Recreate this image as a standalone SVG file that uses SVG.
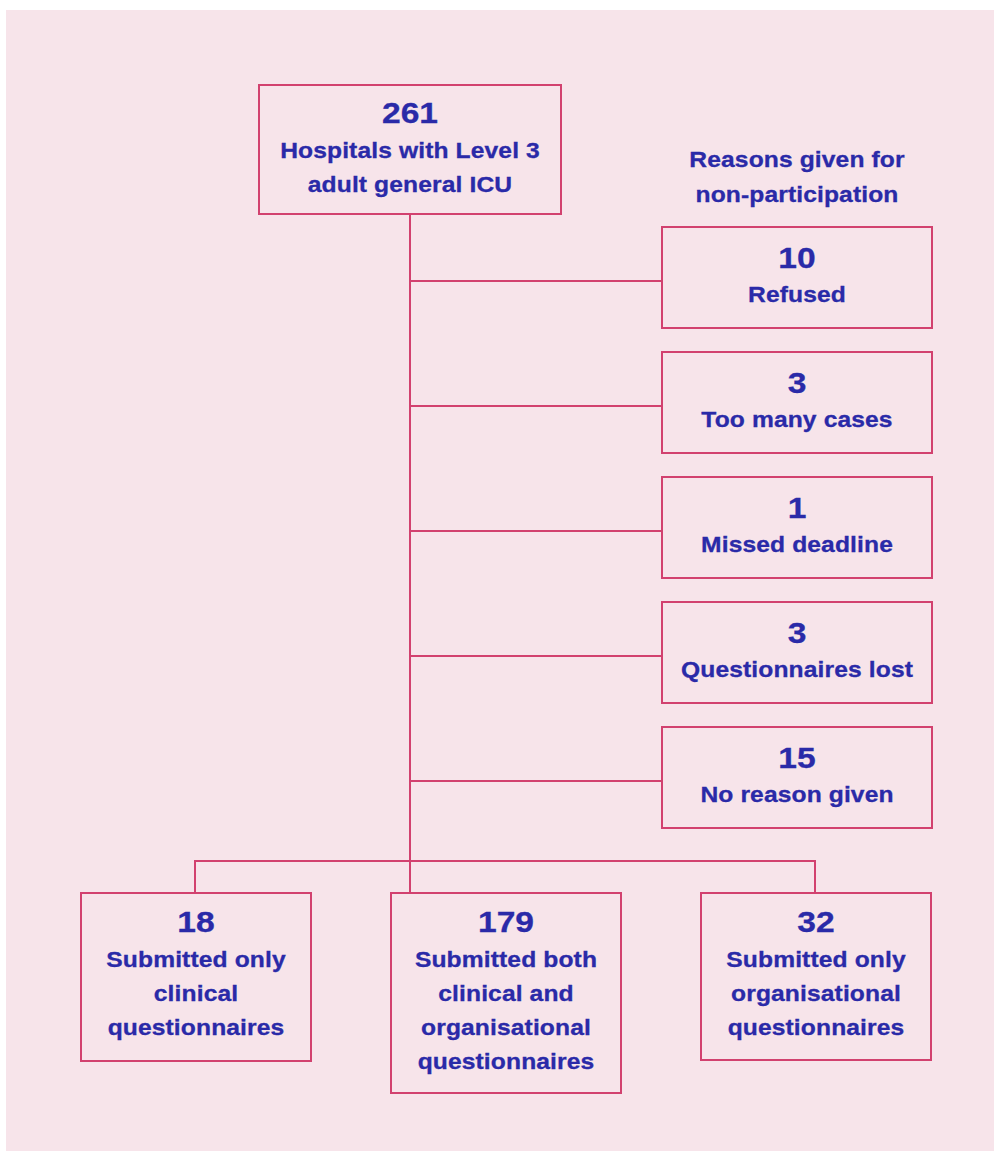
<svg xmlns="http://www.w3.org/2000/svg" width="994" height="1151" viewBox="0 0 994 1151">
<style>
.box{fill:none;stroke:#d2416f;stroke-width:2}
.ln{stroke:#d2416f;stroke-width:2;fill:none}
text{font-family:"Liberation Sans",Arial,sans-serif;font-weight:bold;fill:#2a2aa8;text-anchor:middle;stroke:#2a2aa8;stroke-width:0.3px}
.n{font-size:30px}
.t{font-size:22px;letter-spacing:0.1px}
</style>
<rect x="6" y="10" width="988" height="1141" fill="#f7e4ea"/>
<g id="connectors">
<path class="ln" d="M410 215V893"/>
<path class="ln" d="M410 281H662M410 406H662M410 531H662M410 656H662M410 781H662"/>
<path class="ln" d="M195 893V861H815V893"/>
</g>
<g id="top">
<rect class="box" x="259" y="85" width="302" height="129"/>
<g transform="translate(410 0) scale(1.12 1)">
<text class="n" x="0" y="123">261</text>
<text class="t" x="0" y="158">Hospitals with Level 3</text>
<text class="t" x="0" y="192">adult general ICU</text>
</g>
</g>
<g id="reasons-title">
<g transform="translate(797 0) scale(1.12 1)">
<text class="t" x="0" y="167">Reasons given for</text>
<text class="t" x="0" y="202">non-participation</text>
</g>
</g>
<g id="refused">
<rect class="box" x="662" y="227" width="270" height="101"/>
<g transform="translate(797 0) scale(1.12 1)">
<text class="n" x="0" y="268">10</text>
<text class="t" x="0" y="302">Refused</text>
</g>
</g>
<g id="toomany">
<rect class="box" x="662" y="352" width="270" height="101"/>
<g transform="translate(797 0) scale(1.12 1)">
<text class="n" x="0" y="393">3</text>
<text class="t" x="0" y="427">Too many cases</text>
</g>
</g>
<g id="missed">
<rect class="box" x="662" y="477" width="270" height="101"/>
<g transform="translate(797 0) scale(1.12 1)">
<text class="n" x="0" y="518">1</text>
<text class="t" x="0" y="552">Missed deadline</text>
</g>
</g>
<g id="lost">
<rect class="box" x="662" y="602" width="270" height="101"/>
<g transform="translate(797 0) scale(1.12 1)">
<text class="n" x="0" y="643">3</text>
<text class="t" x="0" y="677">Questionnaires lost</text>
</g>
</g>
<g id="noreason">
<rect class="box" x="662" y="727" width="270" height="101"/>
<g transform="translate(797 0) scale(1.12 1)">
<text class="n" x="0" y="768">15</text>
<text class="t" x="0" y="802">No reason given</text>
</g>
</g>
<g id="clinical">
<rect class="box" x="81" y="893" width="230" height="168"/>
<g transform="translate(196 0) scale(1.12 1)">
<text class="n" x="0" y="932">18</text>
<text class="t" x="0" y="967">Submitted only</text>
<text class="t" x="0" y="1001">clinical</text>
<text class="t" x="0" y="1035">questionnaires</text>
</g>
</g>
<g id="both">
<rect class="box" x="391" y="893" width="230" height="200"/>
<g transform="translate(506 0) scale(1.12 1)">
<text class="n" x="0" y="932">179</text>
<text class="t" x="0" y="967">Submitted both</text>
<text class="t" x="0" y="1001">clinical and</text>
<text class="t" x="0" y="1035">organisational</text>
<text class="t" x="0" y="1069">questionnaires</text>
</g>
</g>
<g id="organisational">
<rect class="box" x="701" y="893" width="230" height="167"/>
<g transform="translate(816 0) scale(1.12 1)">
<text class="n" x="0" y="932">32</text>
<text class="t" x="0" y="967">Submitted only</text>
<text class="t" x="0" y="1001">organisational</text>
<text class="t" x="0" y="1035">questionnaires</text>
</g>
</g>
</svg>
